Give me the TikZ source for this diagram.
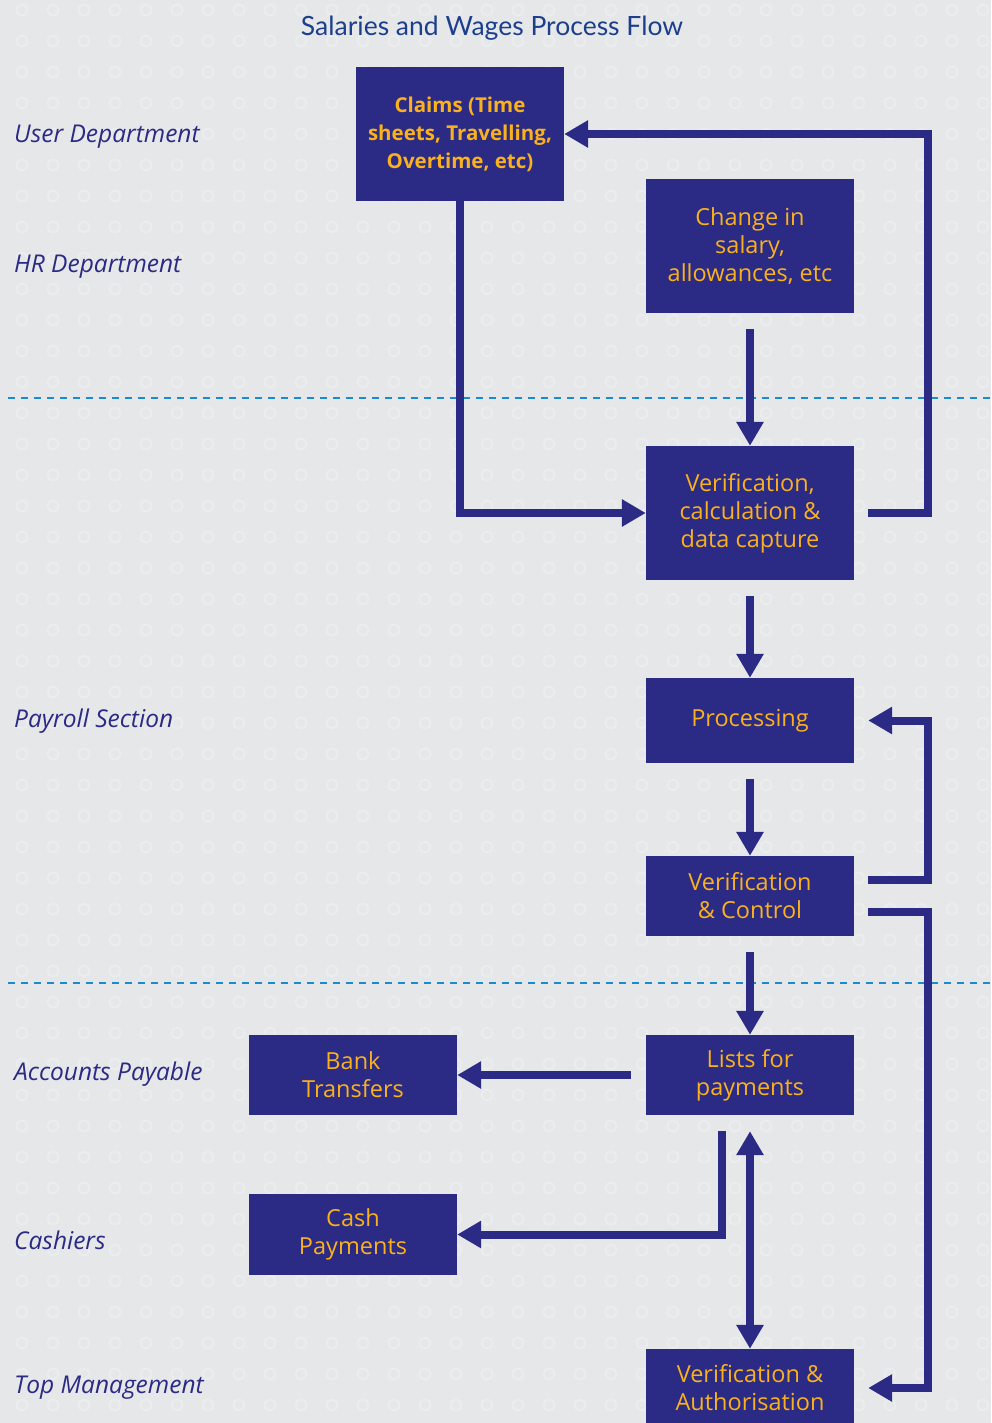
\documentclass[tikz,border=0pt]{standalone}
\usepackage{fontspec}
\setmainfont{Open Sans}
\newfontfamily\titlefont{Lato}
\usetikzlibrary{arrows.meta}
\definecolor{bg}{HTML}{E6E7E9}
\definecolor{boxc}{HTML}{2B2A84}
\definecolor{txtc}{HTML}{F9B11E}
\definecolor{dashc}{HTML}{1B8BD0}
\definecolor{titc}{HTML}{1C3F8C}
\definecolor{circ}{HTML}{EBECED}
\tikzset{
  box/.style={fill=boxc, text=txtc, minimum width=208pt, align=center,
    font=\fontsize{23.5}{28}\selectfont, inner sep=0pt},
  lane/.style={anchor=west, text=boxc, inner sep=0pt, font=\itshape\fontsize{24.5}{26}\selectfont},
  arr/.style={draw=boxc, line width=8pt, -{Triangle[length=24pt,width=26pt]}},
  darr/.style={draw=boxc, line width=8pt, {Triangle[length=24pt,width=26pt]}-{Triangle[length=24pt,width=26pt]}},
  sep/.style={draw=dashc, line width=2.5pt, dash pattern=on 7pt off 6pt}
}
\begin{document}
\begin{tikzpicture}[x=1pt,y=-1pt]
\fill[bg] (0,0) rectangle (991,1423);
\useasboundingbox (0,0) rectangle (991,1423);
\begin{scope}
\clip (0,0) rectangle (991,1423);
\foreach \i in {0,...,31}{
  \foreach \j in {0,...,46}{
    \draw[circ, line width=2.2pt] (22+31*\i, 10+31*\j) circle (5.5pt);
  }
}
% separators
\draw[sep] (8,398) -- (991,398);
\draw[sep] (8,983) -- (991,983);
% title
\node[text=titc, font=\titlefont\fontsize{26.5}{30}\selectfont] (title) at (492,28) {Salaries and Wages Process Flow};
% lanes
\node[lane] (l1) at (14,137) {User Department};
\node[lane] (l2) at (14,267) {HR Department};
\node[lane] (l3) at (14,721) {Payroll Section};
\node[lane] (l4) at (14,1074) {Accounts Payable};
\node[lane] (l5) at (14,1240) {Cashiers};
\node[lane] (l6) at (14,1388) {Top Management};
% boxes
\node[box, minimum height=134pt, font=\bfseries\fontsize{20.5}{28}\selectfont] (claims) at (460,134) {Claims (Time\\sheets, Travelling,\\Overtime, etc)};
\node[box, minimum height=134pt] (chg) at (750,246) {Change in\\salary,\\allowances, etc};
\node[box, minimum height=134pt] (vc) at (750,513) {Verification,\\calculation \&\\data capture};
\node[box, minimum height=85pt] (proc) at (750,720.5) {Processing};
\node[box, minimum height=80pt] (vctl) at (750,896) {Verification\\\& Control};
\node[box, minimum height=80pt] (lists) at (750,1075) {Lists for\\payments};
\node[box, minimum height=80pt] (bank) at (353,1075) {Bank\\Transfers};
\node[box, minimum height=81pt] (cash) at (353,1234.5) {Cash\\Payments};
\node[box, minimum height=78pt] (va) at (750,1388) {Verification \&\\Authorisation};
% connectors
\draw[arr] (claims.south) |- (vc.west);
\draw[arr] ([xshift=14pt]vc.east) -- ++(60,0) |- (claims.east);
\draw[arr, shorten <=16pt] (chg.south) -- (vc.north);
\draw[arr, shorten <=16pt] (vc.south) -- (proc.north);
\draw[arr, shorten <=16pt] (proc.south) -- (vctl.north);
\draw[arr] ([xshift=14pt,yshift=16pt]vctl.east) -- ++(60,0) |- ([xshift=14pt]proc.east);
\draw[arr] ([xshift=14pt,yshift=-16pt]vctl.east) -- ++(60,0) |- ([xshift=14pt]va.east);
\draw[arr, shorten <=16pt] (vctl.south) -- (lists.north);
\draw[arr, shorten <=15pt] (lists.west) -- (bank.east);
\draw[arr] ([xshift=-28pt,yshift=-16pt]lists.south) |- (cash.east);
\draw[darr, shorten <=16pt] (lists.south) -- (va.north);
\end{scope}
\end{tikzpicture}
\end{document}
